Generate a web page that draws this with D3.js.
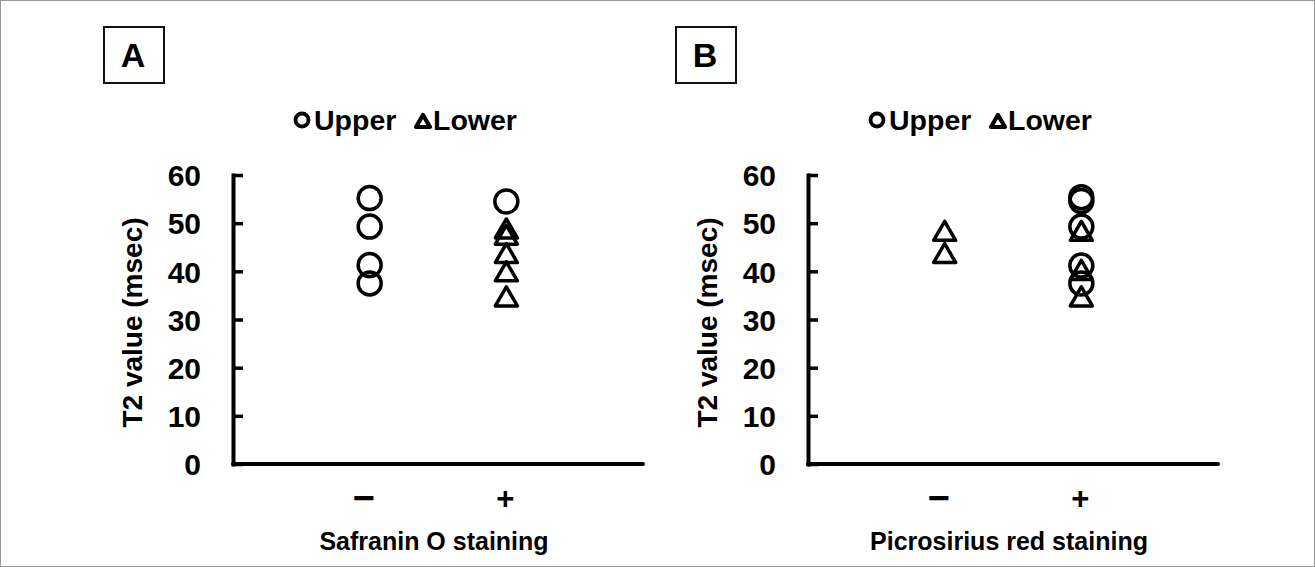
<!DOCTYPE html>
<html>
<head>
<meta charset="utf-8">
<script src="https://cdn.jsdelivr.net/npm/d3@7"></script>
<style>
  body { margin: 0; background: #fff; }
  svg text { font-family: "Liberation Sans", Arial, sans-serif; font-weight: bold; fill: #000; }
</style>
</head>
<body>
<svg id="chart" width="1315" height="567"></svg>
<script>
// Data
const categories = ['−', '+'];
const yTicks = [0, 10, 20, 30, 40, 50, 60];

// Panel A: Safranin O staining
const aUpperMinus = [55.2, 49.3, 41.3, 37.5];
const aUpperPlus = [54.5];
const aLowerMinus = [];
const aLowerPlus = [48.9, 47.6, 43.8, 40.0, 34.8];

// Panel B: Picrosirius red staining
const bUpperMinus = [];
const bUpperPlus = [55.4, 54.6, 49.3, 41.2, 37.5];
const bLowerMinus = [48.4, 43.8];
const bLowerPlus = [48.4, 40.3, 34.8];

const width = 1315, height = 567;
const axisLen = 410;
const yTop = 175, yBottom = 464;

const svg = d3.select('#chart');

// thin frame round the picture
svg.append('rect')
  .attr('x', 0.5).attr('y', 0.5)
  .attr('width', width - 1).attr('height', height - 1)
  .attr('fill', 'none').attr('stroke', '#999').attr('stroke-width', 1);

const y = d3.scaleLinear().domain([0, 60]).range([yBottom, yTop]);

function trianglePath(cx, cy, w, h) {
  return `M${cx},${cy - h / 2}L${cx + w / 2},${cy + h / 2}L${cx - w / 2},${cy + h / 2}Z`;
}

function drawPanel(opts) {
  const g = svg.append('g');
  const x0 = opts.x0;
  const x = d3.scalePoint().domain(categories).range([x0, x0 + axisLen]).padding(1);

  // panel letter box
  g.append('rect')
    .attr('x', opts.boxX).attr('y', 27)
    .attr('width', 60).attr('height', 56)
    .attr('fill', 'none').attr('stroke', '#111').attr('stroke-width', 2);
  g.append('text')
    .attr('x', opts.boxX + 29).attr('y', 67)
    .attr('text-anchor', 'middle')
    .style('font-size', '34px')
    .text(opts.letter);

  // legend
  const lg = g.append('g').attr('transform', `translate(${x0 + 69},120)`);
  lg.append('circle').attr('cx', 0).attr('cy', 0).attr('r', 6.5)
    .attr('fill', 'none').attr('stroke', '#000').attr('stroke-width', 3.8);
  lg.append('text').attr('x', 12).attr('y', 10).style('font-size', '28.5px').text('Upper');
  lg.append('path').attr('d', trianglePath(121, 1, 14, 12))
    .attr('fill', 'none').attr('stroke', '#000').attr('stroke-width', 4.2)
    .attr('stroke-linejoin', 'round');
  lg.append('text').attr('x', 131).attr('y', 10).style('font-size', '28.5px').text('Lower');

  // y axis
  const yAxis = g.append('g')
    .attr('transform', `translate(${x0},0)`)
    .call(d3.axisLeft(y).tickValues(yTicks).tickSizeInner(-10).tickSizeOuter(0).tickPadding(32));
  yAxis.select('.domain').attr('stroke-width', 4).attr('stroke-linecap', 'square');
  yAxis.selectAll('.tick line').attr('stroke-width', 3.5);
  yAxis.selectAll('.tick text')
    .style('font-size', '30px')
    .style('font-family', '"Liberation Sans", Arial, sans-serif')
    .style('font-weight', 'bold')
    .attr('dy', '0.36em');

  // x axis baseline
  g.append('line')
    .attr('x1', x0).attr('x2', x0 + axisLen)
    .attr('y1', yBottom).attr('y2', yBottom)
    .attr('stroke', '#000').attr('stroke-width', 4).attr('stroke-linecap', 'round');

  // category labels
  g.selectAll('text.cat')
    .data(categories)
    .join('text')
    .attr('class', 'cat')
    .attr('x', d => x(d) - (d === '−' ? 6 : 1))
    .attr('y', d => d === '−' ? 511 : 509)
    .attr('text-anchor', 'middle')
    .style('font-size', d => d === '−' ? '38px' : '31px')
    .text(d => d);

  // axis titles
  g.append('text')
    .attr('transform', `translate(${x0 - 91},${(yTop + yBottom) / 2 + 3}) rotate(-90)`)
    .attr('text-anchor', 'middle')
    .style('font-size', '28px')
    .text('T2 value (msec)');
  g.append('text')
    .attr('x', x0 + axisLen / 2 - 4).attr('y', 550)
    .attr('text-anchor', 'middle')
    .style('font-size', '25px')
    .text(opts.title);

  // markers
  const upper = [[categories[0], opts.upperMinus], [categories[1], opts.upperPlus]]
    .flatMap(([c, vals]) => vals.map(v => ({ c, v })));
  const lower = [[categories[0], opts.lowerMinus], [categories[1], opts.lowerPlus]]
    .flatMap(([c, vals]) => vals.map(v => ({ c, v })));

  g.append('g').selectAll('circle')
    .data(upper)
    .join('circle')
    .attr('cx', d => x(d.c))
    .attr('cy', d => y(d.v))
    .attr('r', 11.5)
    .attr('fill', 'none').attr('stroke', '#000').attr('stroke-width', 3.5);

  g.append('g').selectAll('path')
    .data(lower)
    .join('path')
    .attr('d', d => trianglePath(x(d.c), y(d.v), 22, 19))
    .attr('fill', 'none').attr('stroke', '#000').attr('stroke-width', 3.5)
    .attr('stroke-linejoin', 'round');
}

drawPanel({
  letter: 'A', boxX: 104, x0: 233, title: 'Safranin O staining',
  upperMinus: aUpperMinus, upperPlus: aUpperPlus,
  lowerMinus: aLowerMinus, lowerPlus: aLowerPlus
});
drawPanel({
  letter: 'B', boxX: 676, x0: 808, title: 'Picrosirius red staining',
  upperMinus: bUpperMinus, upperPlus: bUpperPlus,
  lowerMinus: bLowerMinus, lowerPlus: bLowerPlus
});
</script>
</body>
</html>
